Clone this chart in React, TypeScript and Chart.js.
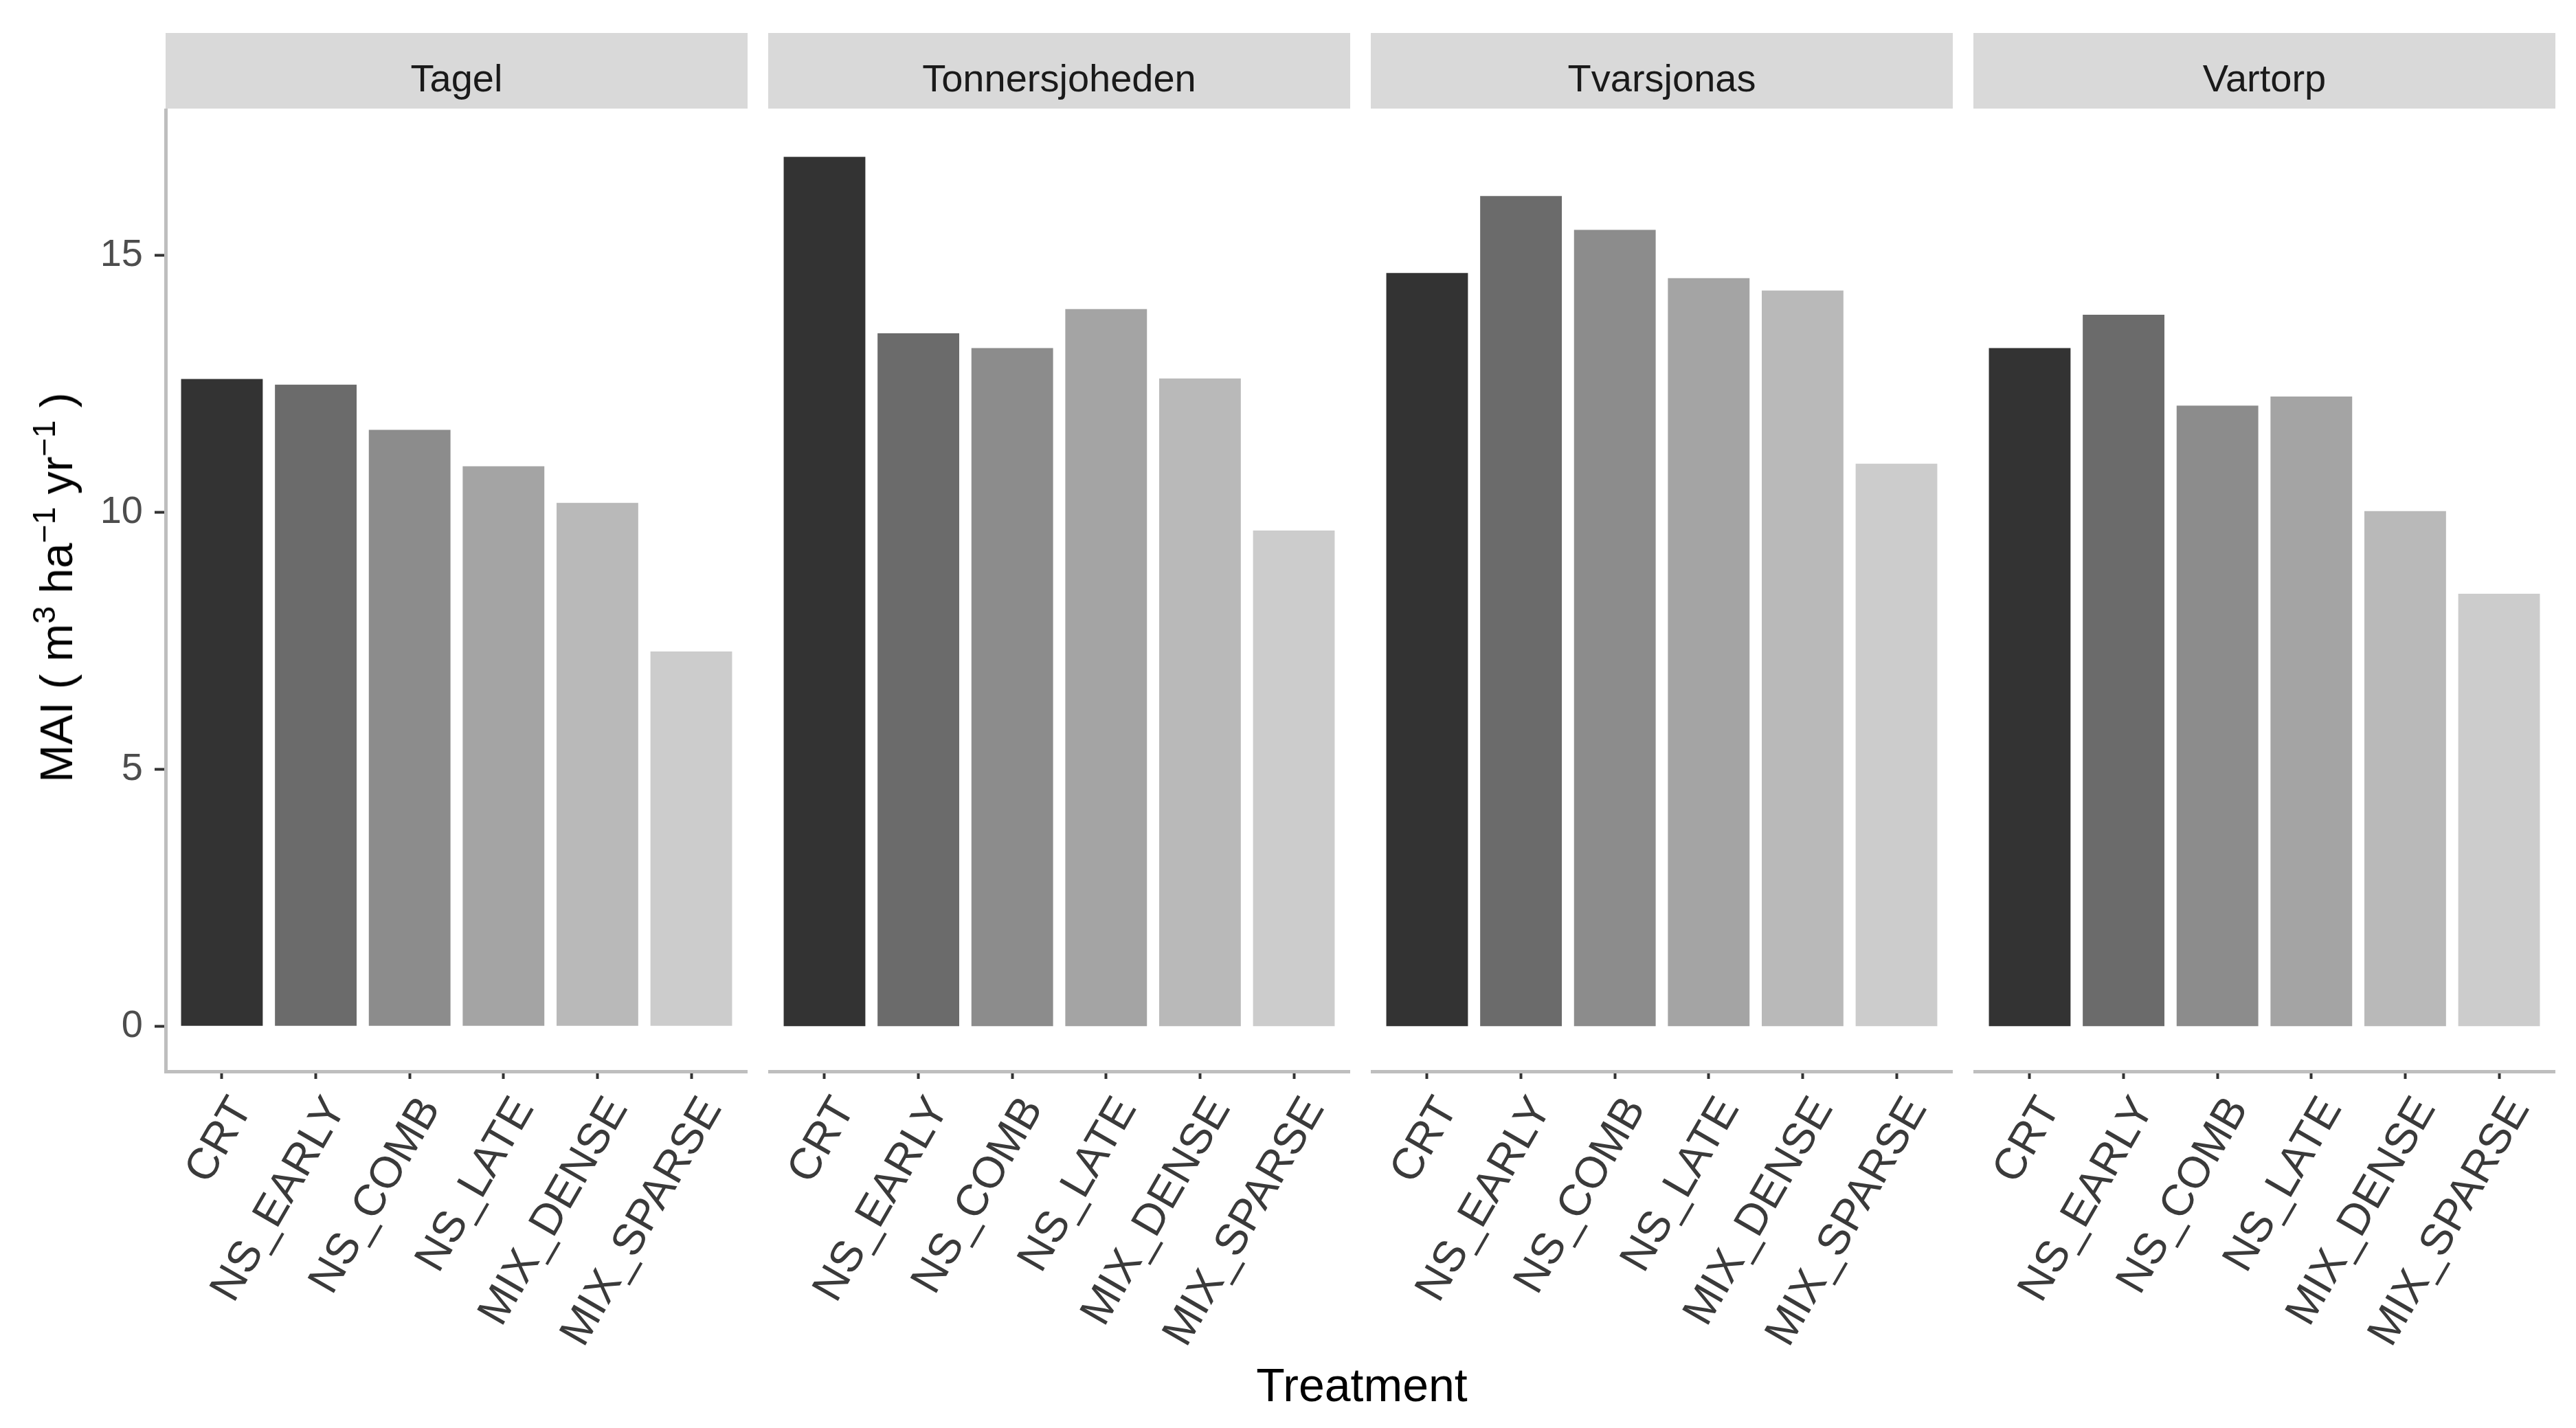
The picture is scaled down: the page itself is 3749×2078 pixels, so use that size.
import React, { useEffect, useRef } from "react";
import { Chart, registerables } from "chart.js";

Chart.register(...registerables);

// ---- data ----
const SITES = ["Tagel", "Tonnersjoheden", "Tvarsjonas", "Vartorp"];
const TREATMENTS = ["CRT", "NS_EARLY", "NS_COMB", "NS_LATE", "MIX_DENSE", "MIX_SPARSE"];
const TAGEL = [12.59, 12.48, 11.6, 10.89, 10.18, 7.29];
const TONNERSJOHEDEN = [16.91, 13.48, 13.19, 13.95, 12.6, 9.64];
const TVARSJONAS = [14.65, 16.15, 15.49, 14.55, 14.31, 10.94];
const VARTORP = [13.19, 13.84, 12.07, 12.25, 10.02, 8.41];
const SERIES = [TAGEL, TONNERSJOHEDEN, TVARSJONAS, VARTORP];
const Y_TICKS = [0, 5, 10, 15];
const Y_MIN = -0.88;
const Y_MAX = 17.85;
const FILLS = ["#333333", "#6B6B6B", "#8C8C8C", "#A4A4A4", "#B9B9B9", "#CCCCCC"];

// ---- layout ----
const FONT = '"Liberation Sans", Arial, Helvetica, sans-serif';
const PANEL_LEFT = [241, 1118, 1995, 2872];
const PANEL_W = 847;
const STRIP_TOP = 48;
const STRIP_H = 110;
const PLOT_TOP = 158;
const PLOT_H = 1401;
const HX = 440;
const YW = 241;

function Panel({ index }: { index: number }) {
  const ref = useRef<HTMLCanvasElement | null>(null);
  const first = index === 0;
  const extra = first ? YW : 0;
  const width = PANEL_W + extra;
  const height = PLOT_H + HX;

  useEffect(() => {
    if (!ref.current) return;
    const values = SERIES[index];
    const chart = new Chart(ref.current, {
      type: "bar",
      data: {
        datasets: [
          {
            data: TREATMENTS.map((_, i) => ({ x: i + 1, y: values[i] })),
            backgroundColor: FILLS,
            borderWidth: 0,
            barPercentage: 0.87,
            categoryPercentage: 1,
          } as any,
        ],
      },
      options: {
        animation: false,
        responsive: false,
        devicePixelRatio: 1,
        layout: { padding: 0 },
        plugins: {
          legend: { display: false },
          tooltip: { enabled: false },
          title: { display: false },
        },
        scales: {
          x: {
            type: "linear",
            min: 0.4,
            max: 6.6,
            offset: false,
            afterBuildTicks: (s: any) => {
              s.ticks = TREATMENTS.map((_, i) => ({ value: i + 1 }));
            },
            afterFit: (s: any) => {
              s.height = HX;
              s.paddingLeft = 0;
              s.paddingRight = 0;
            },
            ticks: {
              autoSkip: false,
              minRotation: 60,
              maxRotation: 60,
              padding: 14,
              labelOffset: 30,
              color: "#3A3A3A",
              font: { family: FONT, size: 64 },
              callback: (_v: any, i: number) => TREATMENTS[i],
            },
            grid: {
              display: true,
              offset: false,
              drawOnChartArea: false,
              drawTicks: true,
              tickLength: 11,
              tickWidth: 4,
              tickColor: "#333333",
            },
            border: { display: true, color: "#BEBEBE", width: 5 },
          },
          y: {
            type: "linear",
            min: Y_MIN,
            max: Y_MAX,
            display: first,
            afterBuildTicks: (s: any) => {
              s.ticks = Y_TICKS.map((v) => ({ value: v }));
            },
            afterFit: (s: any) => {
              if (first) s.width = YW;
              s.paddingTop = 0;
              s.paddingBottom = 0;
            },
            ticks: {
              padding: 17,
              color: "#4D4D4D",
              font: { family: FONT, size: 56 },
              callback: (v: any) => String(v),
            },
            grid: {
              display: true,
              offset: false,
              drawOnChartArea: false,
              drawTicks: true,
              tickLength: 16,
              tickWidth: 4,
              tickColor: "#333333",
            },
            border: { display: true, color: "#BEBEBE", width: 5 },
          },
        },
      } as any,
    });
    return () => chart.destroy();
  }, [index]);

  return (
    <canvas
      ref={ref}
      width={width}
      height={height}
      style={{
        position: "absolute",
        left: PANEL_LEFT[index] - extra,
        top: PLOT_TOP,
        width,
        height,
      }}
    />
  );
}

export default function App() {
  const supStyle: React.CSSProperties = {
    fontSize: "0.7em",
    verticalAlign: "0.55em",
    lineHeight: 0,
  };
  return (
    <div
      style={{
        position: "absolute",
        left: 0,
        top: 0,
        width: 3749,
        height: 2078,
        background: "#FFFFFF",
        fontFamily: FONT,
        overflow: "hidden",
      }}
    >
      {SITES.map((s, i) => (
        <div
          key={s}
          style={{
            position: "absolute",
            left: PANEL_LEFT[i],
            top: STRIP_TOP,
            width: PANEL_W,
            height: STRIP_H,
            background: "#D9D9D9",
            color: "#1A1A1A",
            fontSize: 56,
            lineHeight: "132px",
            textAlign: "center",
            whiteSpace: "nowrap",
          }}
        >
          {s}
        </div>
      ))}
      {SITES.map((s, i) => (
        <Panel key={"p" + s} index={i} />
      ))}
      <div
        style={{
          position: "absolute",
          left: 82,
          top: 855,
          transform: "translate(-50%, -50%) rotate(-90deg)",
          fontSize: 66,
          color: "#000000",
          whiteSpace: "nowrap",
          lineHeight: "70px",
        }}
      >
        MAI ( m<span style={supStyle}>3</span> ha<span style={supStyle}>−1</span> yr
        <span style={supStyle}>−1</span> )
      </div>
      <div
        style={{
          position: "absolute",
          left: 1982,
          top: 2015,
          transform: "translate(-50%, -50%)",
          fontSize: 68,
          color: "#000000",
          whiteSpace: "nowrap",
          lineHeight: "80px",
        }}
      >
        Treatment
      </div>
    </div>
  );
}
